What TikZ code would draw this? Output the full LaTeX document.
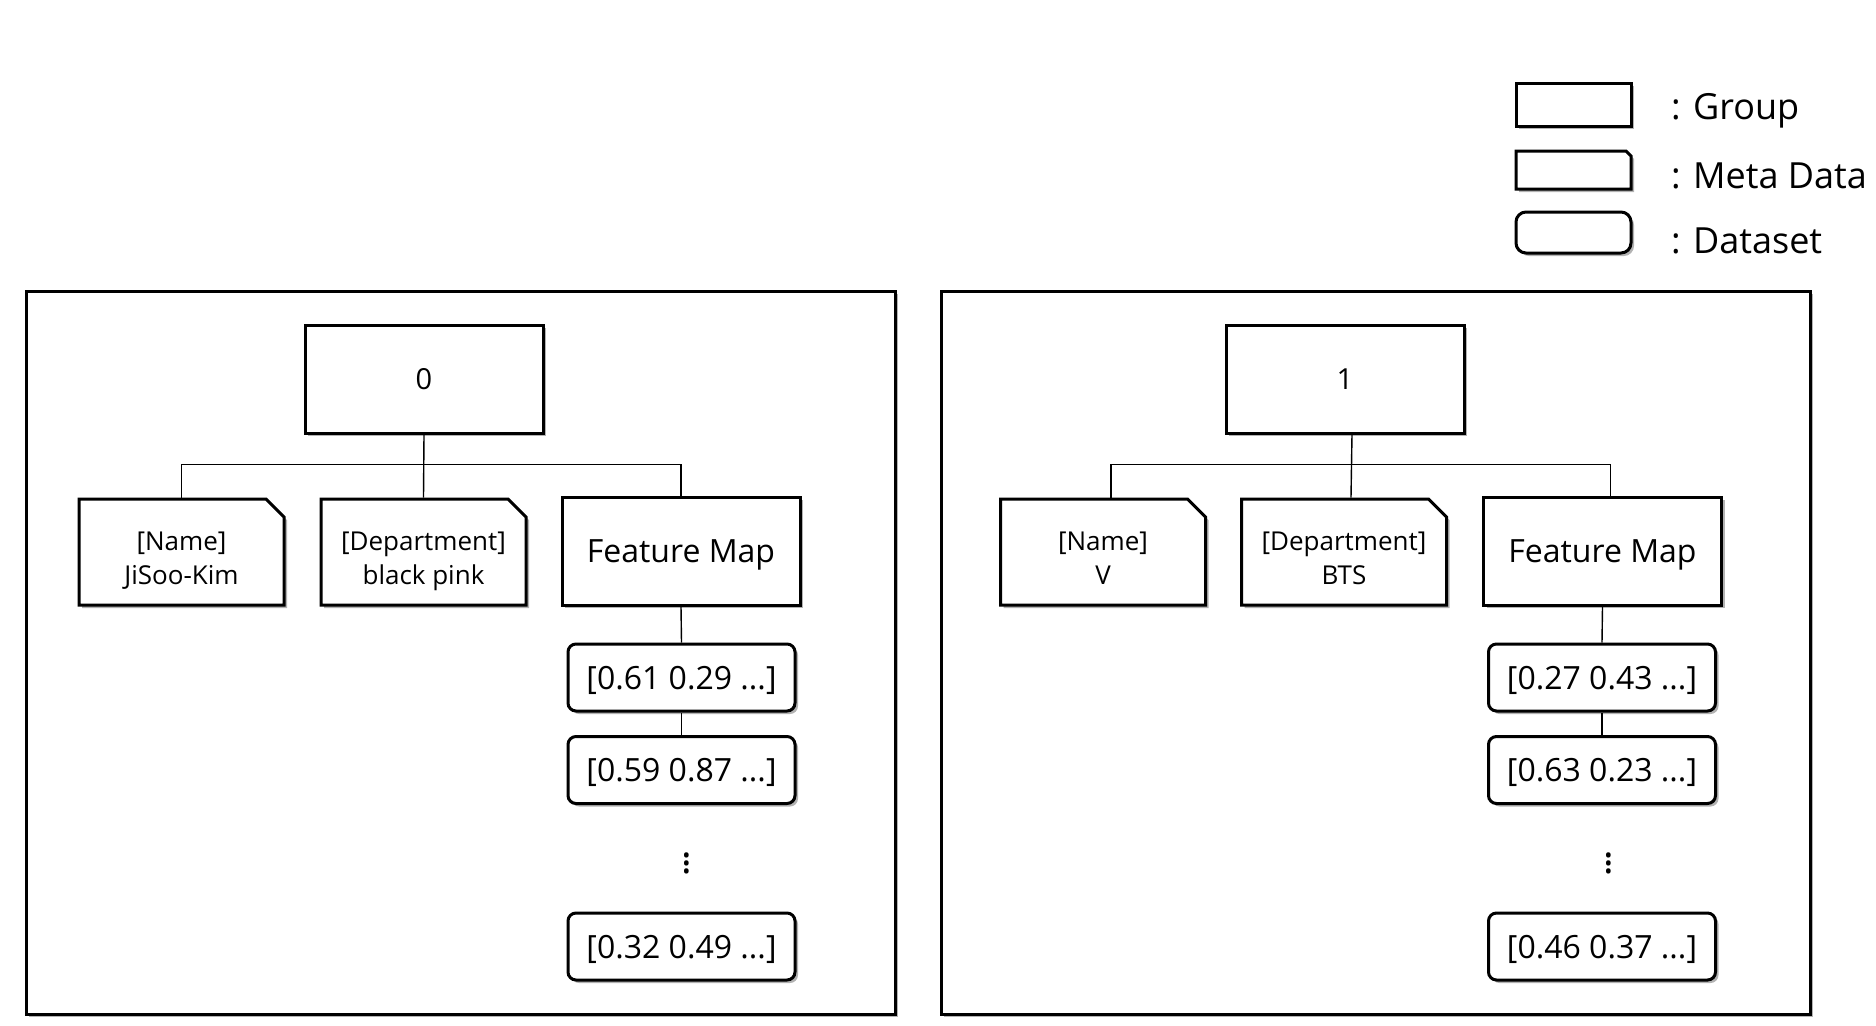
\documentclass[tikz,border=0pt]{standalone}
\usepackage{fontspec}
\setmainfont{Open Sans}
\usetikzlibrary{shapes.misc,shadows}
\begin{document}
\begin{tikzpicture}[x=0.5pt,y=-0.5pt,
    box/.style={draw,line width=1.5pt,fill=white,inner sep=0pt,align=center,
      drop shadow={shadow xshift=1.5pt,shadow yshift=-1.5pt,fill=black!50,opacity=.6}},
    grp/.style={box,minimum width=119pt,minimum height=54pt,text depth=0pt,font=\fontsize{14.5}{17}\selectfont},
    meta/.style={box,chamfered rectangle,chamfered rectangle corners=north east,
      chamfered rectangle sep=4.5pt,minimum width=102.5pt,minimum height=53pt,text height=35pt,text depth=3pt,
      font=\fontsize{13}{17}\selectfont},
    fmap/.style={grp,font=\fontsize{16}{19}\selectfont},
    dset/.style={box,rounded corners=4pt,minimum width=113.5pt,minimum height=33.5pt,text depth=0pt,
      font=\fontsize{16}{19}\selectfont},
    panel/.style={box,minimum width=434.5pt,minimum height=361.5pt},
    link/.style={line width=0.7pt},
    legend/.style={anchor=base west,font=\fontsize{18}{21}\selectfont}]
\useasboundingbox (0,0) rectangle (1876,1025);
% legend
\node[box,minimum width=57.5pt,minimum height=21.5pt] (lgGroup) at (1573.5,104.5) {};
\node[box,chamfered rectangle,chamfered rectangle corners=north east,chamfered rectangle sep=2.5pt,
  minimum width=57.5pt,minimum height=19pt,text height=19pt,text depth=0pt] (lgMeta) at (1573.5,170) {};
\node[box,rounded corners=5pt,minimum width=57.5pt,minimum height=20.5pt] (lgData) at (1573.5,232.5) {};
\node[legend] (lgGroupT) at (1664,119) {: Group};
\node[legend] (lgMetaT) at (1664,188) {: Meta Data};
\node[legend] (lgDataT) at (1664,253) {: Dataset};

% group 0
\node[panel] (panel0) at (460.5,652.5) {};
\node[grp] (grp0) at (424,379) {0};
\node[meta] (name0) at (181.5,552) {[Name]\\JiSoo-Kim};
\node[meta] (dept0) at (423.5,552) {[Department]\\black pink};
\node[fmap] (feat0) at (681,551) {Feature Map};
\node[dset] (ds01) at (681.5,677.5) {[0.61 0.29 ...]};
\node[dset] (ds02) at (681.5,770) {[0.59 0.87 ...]};
\node[font=\fontsize{20}{22}\selectfont] (dots0) at (687,857) {$\vdots$};
\node[dset] (ds03) at (681.5,946.5) {[0.32 0.49 ...]};
\draw[link] (name0.north) -- ++(0,-33) -| (feat0.north);
\draw[link] (grp0.south) -- (dept0.north);
\draw[link] (feat0.south) -- (ds01.north);
\draw[link] (ds01.south) -- (ds02.north);

% group 1
\node[panel] (panel1) at (1375.5,652.5) {};
\node[grp] (grp1) at (1345,379) {1};
\node[meta] (name1) at (1103,552) {[Name]\\V};
\node[meta] (dept1) at (1344,552) {[Department]\\BTS};
\node[fmap] (feat1) at (1602.5,551) {Feature Map};
\node[dset] (ds11) at (1602,677.5) {[0.27 0.43 ...]};
\node[dset] (ds12) at (1602,770) {[0.63 0.23 ...]};
\node[font=\fontsize{20}{22}\selectfont] (dots1) at (1609,857) {$\vdots$};
\node[dset] (ds13) at (1602,946.5) {[0.46 0.37 ...]};
\draw[link] ([xshift=4pt]name1.north) -- ++(0,-33) -| ([xshift=4pt]feat1.north);
\draw[link] ([xshift=3.5pt]grp1.south) -- ([xshift=3.5pt]dept1.north);
\draw[link] (feat1.south) -- (ds11.north);
\draw[link] (ds11.south) -- (ds12.north);
\end{tikzpicture}
\end{document}
